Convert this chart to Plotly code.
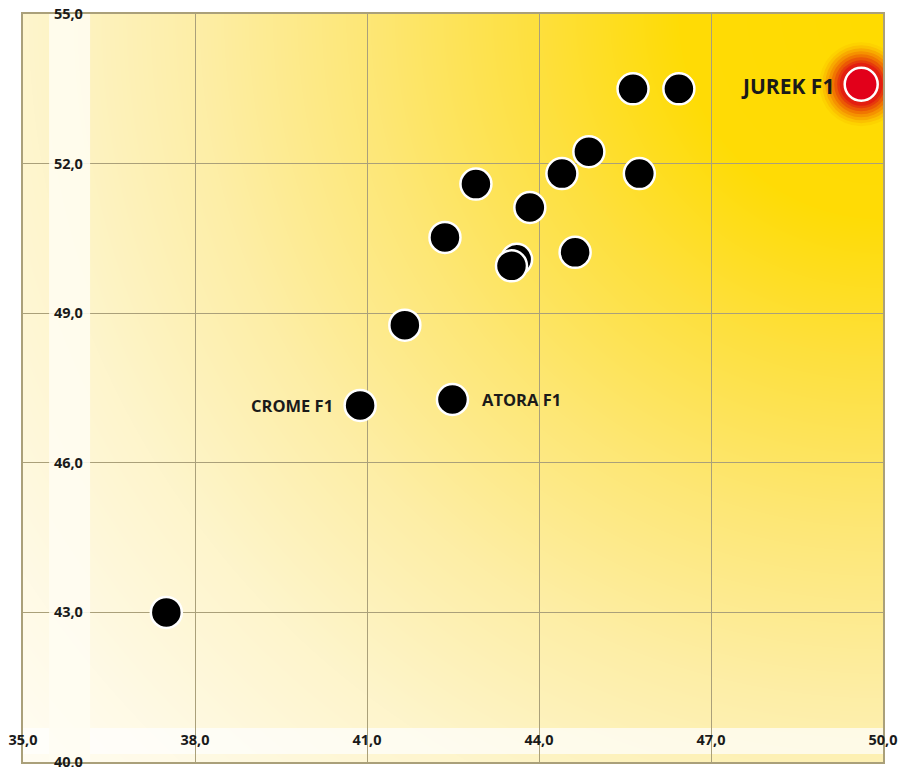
import base64, struct, zlib
import numpy as np
import plotly.graph_objects as go

# ---------------- data ----------------
x_ticks = [35, 38, 41, 44, 47, 50]
x_ticktext = ["35,0", "38,0", "41,0", "44,0", "47,0", "50,0"]
y_ticks = [40, 43, 46, 49, 52, 55]
y_ticktext = ["40,0", "43,0", "46,0", "49,0", "52,0", "55,0"]

other_x = [37.5, 41.66, 42.36, 42.90, 43.61, 43.52, 43.84, 44.40, 44.87, 44.63, 45.75, 45.64, 46.44]
other_y = [43.0, 48.76, 50.52, 51.59, 50.08, 49.95, 51.12, 51.80, 52.24, 50.22, 51.80, 53.50, 53.50]

named = ["CROME F1", "ATORA F1"]
named_x = [40.88, 42.49]
named_y = [47.15, 47.27]

hero = "JUREK F1"
hero_x = 49.62
hero_y = 53.59

# ---------------- background gradient image (plot area 860 x 748 px) ----------------
W, H = 860, 748
ii, jj = np.meshgrid(np.arange(W), np.arange(H))
d = np.sqrt((W - ii) ** 2 + jj ** 2) / np.sqrt(W ** 2 + H ** 2)
stops_t = [0.0, 0.18, 0.30, 0.45, 0.60, 0.75, 0.90, 1.0]
stops_c = ["#ffdb00", "#ffdc06", "#fee03c", "#fde775", "#fdeea6", "#fef5cc", "#fffae6", "#fffdf3"]
rgb = np.array([[int(c[k:k + 2], 16) for k in (1, 3, 5)] for c in stops_c], dtype=float)
img = np.zeros((H, W, 3))
for ch in range(3):
    img[..., ch] = np.interp(d, stops_t, rgb[:, ch])
# light band behind the x tick labels (rows 714..740 of the plot area)
img[714:740, :, :] = img[714:740, :, :] * 0.3 + 255 * 0.7
img = np.clip(img, 0, 255).astype(np.uint8)


def png_uri(arr):
    h, w, _ = arr.shape
    raw = b"".join(b"\x00" + arr[r].tobytes() for r in range(h))

    def chunk(tag, data):
        return struct.pack(">I", len(data)) + tag + data + struct.pack(">I", zlib.crc32(tag + data) & 0xffffffff)

    png = (b"\x89PNG\r\n\x1a\n" + chunk(b"IHDR", struct.pack(">IIBBBBB", w, h, 8, 2, 0, 0, 0))
           + chunk(b"IDAT", zlib.compress(raw, 9)) + chunk(b"IEND", b""))
    return "data:image/png;base64," + base64.b64encode(png).decode()


FONT = "Open Sans"
TXT = "#1a1a1a"
GRID = "#aaa07a"

fig = go.Figure()

# light band behind y tick labels (background element, drawn above gridlines)
band_x0, band_x1 = 35.455, 36.17
fig.add_trace(go.Scatter(
    x=[band_x0, band_x1, band_x1, band_x0, band_x0], y=[40, 40, 55, 55, 40],
    mode="lines", fill="toself", fillcolor="rgba(255,253,242,0.86)", line=dict(width=0),
    hoverinfo="skip", showlegend=False))

# glow around hero point
glow_sizes = [84, 78, 72, 66, 60, 54, 48, 43]
glow_cols = ["#fdd200", "#fbc100", "#f8aa00", "#f59200", "#f07600", "#eb5805", "#e63a0c", "#e31e10"]
fig.add_trace(go.Scatter(
    x=[hero_x] * len(glow_sizes), y=[hero_y] * len(glow_sizes), mode="markers",
    marker=dict(size=glow_sizes, color=glow_cols, line=dict(width=0), opacity=1),
    hoverinfo="skip", showlegend=False))

fig.add_trace(go.Scatter(
    x=other_x + named_x, y=other_y + named_y, mode="markers",
    marker=dict(size=31, color="#000000", line=dict(color="#ffffff", width=2.5)),
    showlegend=False))

fig.add_trace(go.Scatter(
    x=[hero_x], y=[hero_y], mode="markers",
    marker=dict(size=33, color="#e2001a", line=dict(color="#ffffff", width=2.5)),
    showlegend=False))

ann = []
ann.append(dict(x=named_x[0], y=named_y[0], text=named[0], xanchor="right", yanchor="middle",
                xshift=-25, showarrow=False, font=dict(family=FONT, size=16.5, color=TXT, weight="bold")))
ann.append(dict(x=named_x[1], y=named_y[1], text=named[1], xanchor="left", yanchor="middle",
                xshift=28, showarrow=False, font=dict(family=FONT, size=16.5, color=TXT, weight="bold")))
ann.append(dict(x=hero_x, y=hero_y, text=hero, xanchor="right", yanchor="middle", yshift=-2,
                xshift=-25, showarrow=False, font=dict(family=FONT, size=21, color=TXT, weight="bold")))

fig.update_layout(
    width=901, height=767,
    margin=dict(l=23, r=18, t=14, b=5, autoexpand=False),
    paper_bgcolor="#ffffff", plot_bgcolor="#ffffff",
    annotations=ann,
    images=[dict(source=png_uri(img), xref="x", yref="y", x=35, y=55, sizex=15, sizey=15,
                 sizing="stretch", layer="below", xanchor="left", yanchor="top")],
    xaxis=dict(range=[35, 50], tickvals=x_ticks, ticktext=x_ticktext, ticks="", automargin=False,
               ticklabelposition="inside", ticklabeloverflow="allow", ticklabelstandoff=14,
               showgrid=True, gridcolor=GRID, gridwidth=1.3, zeroline=False,
               showline=True, linecolor=GRID, linewidth=1.6, mirror=True,
               tickfont=dict(family=FONT, size=14.5, color=TXT, weight="bold")),
    yaxis=dict(range=[40, 55], tickvals=y_ticks, ticktext=y_ticktext, ticks="", automargin=False,
               ticklabelposition="inside", ticklabeloverflow="allow", ticklabelstandoff=31,
               showgrid=True, gridcolor=GRID, gridwidth=1.3, zeroline=False,
               showline=True, linecolor=GRID, linewidth=1.6, mirror=True,
               tickfont=dict(family=FONT, size=14.5, color=TXT, weight="bold")),
)

fig.write_html("out.html")
